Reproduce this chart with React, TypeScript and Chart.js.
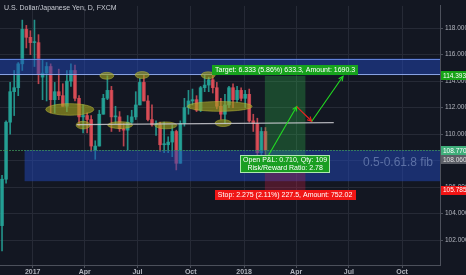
import React, { useEffect, useRef } from 'react';
import { Chart, registerables } from 'chart.js';

Chart.register(...registerables);

// ---- Data (weekly candles, USD/JPY, FXCM) ----
const weekDates = [
  '2016-11-07', '2016-11-14', '2016-11-21', '2016-11-28', '2016-12-05', '2016-12-12', '2016-12-19', '2016-12-26',
  '2017-01-02', '2017-01-09', '2017-01-16', '2017-01-23', '2017-01-30', '2017-02-06', '2017-02-13', '2017-02-20',
  '2017-02-27', '2017-03-06', '2017-03-13', '2017-03-20', '2017-03-27', '2017-04-03', '2017-04-10', '2017-04-17',
  '2017-04-24', '2017-05-01', '2017-05-08', '2017-05-15', '2017-05-22', '2017-05-29', '2017-06-05', '2017-06-12',
  '2017-06-19', '2017-06-26', '2017-07-03', '2017-07-10', '2017-07-17', '2017-07-24', '2017-07-31', '2017-08-07',
  '2017-08-14', '2017-08-21', '2017-08-28', '2017-09-04', '2017-09-11', '2017-09-18', '2017-09-25', '2017-10-02',
  '2017-10-09', '2017-10-16', '2017-10-23', '2017-10-30', '2017-11-06', '2017-11-13', '2017-11-20', '2017-11-27',
  '2017-12-04', '2017-12-11', '2017-12-18', '2017-12-25', '2018-01-01', '2018-01-08', '2018-01-15', '2018-01-22',
  '2018-01-29', '2018-02-05',
];
const opens = [
  103.1, 106.6, 110.9, 113.2, 113.5, 115.3, 117.9, 117.3,
  116.9, 116.9, 114.3, 114.6, 115.1, 112.6, 113.2, 112.9,
  112.1, 114.0, 114.8, 112.7, 111.3, 111.4, 111.1, 108.8,
  109.1, 111.5, 112.7, 113.3, 111.3, 111.3, 110.4, 110.3,
  110.9, 111.3, 112.2, 113.9, 112.5, 111.1, 110.7, 110.7,
  109.2, 109.2, 109.4, 110.2, 107.8, 110.8, 112.0, 112.5,
  112.6, 111.8, 113.5, 113.7, 114.1, 113.5, 112.1, 111.5,
  112.2, 113.5, 112.6, 113.3, 112.7, 113.0, 111.0, 110.8,
  108.6, 110.2,
];
const highs = [
  106.9, 111.0, 113.9, 114.8, 115.4, 118.6, 118.2, 117.8,
  118.6, 117.5, 115.6, 115.4, 115.3, 113.9, 114.9, 113.8,
  114.8, 115.3, 115.2, 112.9, 112.2, 111.6, 111.4, 109.5,
  111.8, 113.0, 114.4, 113.6, 112.1, 111.7, 110.8, 111.4,
  111.8, 113.2, 114.2, 114.5, 112.9, 112.2, 111.0, 110.9,
  110.9, 109.8, 110.7, 110.3, 111.0, 112.7, 113.3, 113.4,
  112.9, 113.6, 114.5, 114.3, 114.7, 113.9, 112.7, 113.0,
  113.6, 113.8, 113.6, 113.5, 113.3, 113.4, 111.5, 111.2,
  110.5, 110.5,
];
const lows = [
  101.2, 106.3, 110.0, 111.4, 112.9, 114.8, 116.5, 116.0,
  115.1, 113.8, 112.6, 112.5, 111.6, 111.6, 112.6, 112.1,
  111.7, 113.6, 112.5, 110.6, 110.1, 110.1, 108.7, 108.1,
  109.1, 111.5, 112.6, 110.2, 110.8, 110.2, 109.1, 108.8,
  110.8, 111.1, 112.2, 112.5, 111.0, 110.6, 109.9, 108.7,
  108.6, 108.6, 108.3, 107.3, 107.8, 110.6, 111.5, 112.2,
  111.7, 111.7, 113.2, 113.2, 113.1, 111.9, 111.1, 110.8,
  112.0, 112.0, 112.4, 112.5, 112.0, 110.9, 110.2, 108.3,
  108.3, 108.0,
];
const closes = [
  106.6, 110.9, 113.2, 113.5, 115.3, 117.9, 117.3, 116.9,
  116.9, 114.5, 114.6, 115.1, 112.6, 113.2, 112.9, 112.1,
  114.0, 114.8, 112.7, 111.3, 111.4, 111.1, 109.1, 109.1,
  111.5, 112.7, 113.3, 111.3, 111.3, 110.4, 110.3, 110.9,
  111.3, 112.2, 113.9, 112.5, 111.1, 110.7, 110.7, 109.2,
  109.2, 109.4, 110.2, 107.8, 110.8, 112.0, 112.5, 112.6,
  111.8, 113.5, 113.7, 114.1, 113.5, 112.1, 111.5, 112.2,
  113.5, 112.6, 113.3, 112.7, 113.0, 111.0, 110.8, 108.6,
  110.2, 108.8,
];

const xTickDates = ['2017-01-01', '2017-04-01', '2017-07-01', '2017-10-01', '2018-01-01', '2018-04-01', '2018-07-01', '2018-10-01'];
const xTickLabels = ['2017', 'Apr', 'Jul', 'Oct', '2018', 'Apr', 'Jul', 'Oct'];
const yTicks = [102, 104, 106, 108, 110, 112, 114, 116, 118];

const chartTitle = 'U.S. Dollar/Japanese Yen, D, FXCM';

// ---- Annotations ----
const resistanceZone = [114.45, 115.7];
const fibZone = [106.45, 108.8];
const fibZoneStart = '2016-12-18';
const fibLabel = '0.5-0.61.8 fib';

const entryPrice = 108.06;
const targetPrice = 114.393;
const stopPrice = 105.785;
const lastPrice = 108.77;
const positionDates = ['2018-02-06', '2018-04-17'];
const targetText = 'Target: 6.333 (5.86%) 633.3, Amount: 1690.3';
const pnlText = ['Open P&L: 0.710, Qty: 109', 'Risk/Reward Ratio: 2.78'];
const stopText = 'Stop: 2.275 (2.11%) 227.5, Amount: 752.02';

const trendDates = ['2017-03-18', '2018-06-05'];
const trendPrices = [110.71, 110.86];

const pathDates = ['2018-02-10', '2018-04-02', '2018-04-28', '2018-06-21'];
const pathPrices = [108.24, 112.08, 110.97, 114.36];
const pathDirections = ['up', 'down', 'up'];

const ellipseDates = ['2017-03-06', '2017-03-29', '2017-05-09', '2017-07-09', '2017-06-01', '2017-08-19', '2017-10-31', '2017-11-20', '2017-11-26'];
const ellipsePrices = [111.86, 110.68, 114.4, 114.46, 110.68, 110.66, 114.44, 112.09, 110.83];
const ellipseHalfDays = [41.5, 12, 12, 12, 21.5, 19, 12, 56, 14];
const ellipseHalfPrices = [0.44, 0.29, 0.26, 0.26, 0.26, 0.26, 0.26, 0.37, 0.26];

// ---- helpers ----
const EPOCH = Date.parse('2017-01-01T00:00:00Z');
const dayOf = (s: string) => (Date.parse(s + 'T00:00:00Z') - EPOCH) / 86400000;

const BG = '#131722';
const GRID = '#262a36';
const AXIS = '#4c505b';
const TEXT = '#b2b5be';
const UP = 'rgba(38,166,154,0.85)';
const DOWN = 'rgba(230,80,90,0.8)';
const FONT = '"Liberation Sans", Arial, sans-serif';

const annotations = {
  id: 'annotations',
  afterDatasetsDraw(chart: any) {
    const { ctx, chartArea: a, scales } = chart;
    const x = scales.x;
    const y = scales.y;
    const px = (d: string) => x.getPixelForValue(dayOf(d));
    ctx.save();
    ctx.beginPath();
    ctx.rect(a.left, a.top, a.right - a.left, a.bottom - a.top);
    ctx.clip();

    // resistance zone
    const rTop = y.getPixelForValue(resistanceZone[1]);
    const rBot = y.getPixelForValue(resistanceZone[0]);
    ctx.fillStyle = 'rgba(33,72,185,0.5)';
    ctx.fillRect(a.left, rTop, a.right - a.left, rBot - rTop);
    ctx.strokeStyle = 'rgba(110,145,235,0.85)';
    ctx.lineWidth = 1;
    ctx.beginPath();
    ctx.moveTo(a.left, Math.round(rTop) + 0.5);
    ctx.lineTo(a.right, Math.round(rTop) + 0.5);
    ctx.stroke();
    ctx.strokeStyle = 'rgba(150,175,240,0.9)';
    ctx.beginPath();
    ctx.moveTo(a.left, Math.round(rBot) - 0.5);
    ctx.lineTo(a.right, Math.round(rBot) - 0.5);
    ctx.stroke();

    // fib zone
    const fTop = y.getPixelForValue(fibZone[1]);
    const fBot = y.getPixelForValue(fibZone[0]);
    const fLeft = px(fibZoneStart);
    ctx.fillStyle = 'rgba(33,72,185,0.5)';
    ctx.fillRect(fLeft, fTop, a.right - fLeft, fBot - fTop);

    // position tool
    const pL = px(positionDates[0]);
    const pR = px(positionDates[1]);
    const yT = y.getPixelForValue(targetPrice);
    const yE = y.getPixelForValue(entryPrice);
    const yS = y.getPixelForValue(stopPrice);
    ctx.fillStyle = 'rgba(50,200,80,0.28)';
    ctx.fillRect(pL, yT, pR - pL, yE - yT);
    ctx.fillStyle = 'rgba(210,30,70,0.3)';
    ctx.fillRect(pL, yE, pR - pL, yS - yE);

    // last price line
    const yL = y.getPixelForValue(lastPrice);
    ctx.strokeStyle = 'rgba(60,150,90,0.75)';
    ctx.setLineDash([2, 1]);
    ctx.beginPath();
    ctx.moveTo(a.left, Math.round(yL) + 0.5);
    ctx.lineTo(a.right, Math.round(yL) + 0.5);
    ctx.stroke();
    ctx.setLineDash([]);

    // ellipses
    for (let i = 0; i < ellipseDates.length; i++) {
      const d = dayOf(ellipseDates[i]);
      const cx = x.getPixelForValue(d);
      const cy = y.getPixelForValue(ellipsePrices[i]);
      const rx = Math.abs(x.getPixelForValue(d + ellipseHalfDays[i]) - cx);
      const ry = Math.abs(y.getPixelForValue(ellipsePrices[i] + ellipseHalfPrices[i]) - cy);
      ctx.beginPath();
      ctx.ellipse(cx, cy, rx, ry, 0, 0, Math.PI * 2);
      ctx.fillStyle = 'rgba(165,165,30,0.62)';
      ctx.fill();
      ctx.strokeStyle = 'rgba(190,190,60,0.5)';
      ctx.lineWidth = 1;
      ctx.stroke();
    }

    // trend line
    ctx.strokeStyle = 'rgba(205,205,210,0.85)';
    ctx.lineWidth = 1.2;
    ctx.beginPath();
    ctx.moveTo(px(trendDates[0]), y.getPixelForValue(trendPrices[0]));
    ctx.lineTo(px(trendDates[1]), y.getPixelForValue(trendPrices[1]));
    ctx.stroke();

    // projected path arrows
    for (let i = 0; i < pathDirections.length; i++) {
      const x0 = px(pathDates[i]);
      const y0 = y.getPixelForValue(pathPrices[i]);
      const x1 = px(pathDates[i + 1]);
      const y1 = y.getPixelForValue(pathPrices[i + 1]);
      const col = pathDirections[i] === 'up' ? '#22dd22' : '#ee2222';
      ctx.strokeStyle = col;
      ctx.lineWidth = 1.1;
      ctx.beginPath();
      ctx.moveTo(x0, y0);
      ctx.lineTo(x1, y1);
      ctx.stroke();
      const ang = Math.atan2(y1 - y0, x1 - x0);
      const hl = 5;
      ctx.beginPath();
      ctx.moveTo(x1 - hl * Math.cos(ang - 0.45), y1 - hl * Math.sin(ang - 0.45));
      ctx.lineTo(x1, y1);
      ctx.lineTo(x1 - hl * Math.cos(ang + 0.45), y1 - hl * Math.sin(ang + 0.45));
      ctx.stroke();
    }

    // fib label
    ctx.font = '12px ' + FONT;
    ctx.fillStyle = 'rgba(105,125,175,0.85)';
    ctx.textAlign = 'right';
    ctx.textBaseline = 'middle';
    ctx.fillText(fibLabel, a.right - 7, (fTop + fBot) / 2 - 3);

    ctx.restore();

    // label boxes
    ctx.save();
    ctx.font = '7px ' + FONT;
    ctx.textAlign = 'center';
    ctx.textBaseline = 'middle';
    const cxBox = (pL + pR) / 2;
    const drawBox = (lines: string[], top: number, fill: string, border: string | null) => {
      const w = Math.max(...lines.map((l) => ctx.measureText(l).width)) + 6;
      const lh = 7.5;
      const h = lines.length * lh + 2.5;
      const left = Math.round(cxBox - w / 2);
      ctx.fillStyle = fill;
      ctx.beginPath();
      ctx.rect(left, Math.round(top), Math.round(w), Math.round(h));
      ctx.fill();
      if (border) {
        ctx.strokeStyle = border;
        ctx.lineWidth = 1;
        ctx.strokeRect(left + 0.5, Math.round(top) + 0.5, Math.round(w) - 1, Math.round(h) - 1);
      }
      ctx.fillStyle = '#ffffff';
      lines.forEach((l, i) => ctx.fillText(l, cxBox, Math.round(top) + 1.5 + lh * i + lh / 2));
    };
    drawBox([targetText], yT - 10.5, '#17a31d', null);
    drawBox(pnlText, yE - 5, '#1a9e22', 'rgba(190,240,190,0.9)');
    drawBox([stopText], yS, '#f01616', null);
    ctx.restore();
  },
  afterDraw(chart: any) {
    const { ctx, chartArea: a, scales } = chart;
    const y = scales.y;
    ctx.save();
    // price tags on axis
    const tags = [
      { v: targetPrice, fill: '#16a316', text: '#ffffff' },
      { v: lastPrice, fill: '#3fae7a', text: '#ffffff' },
      { v: entryPrice, fill: '#5b5e66', text: '#e0e0e0' },
      { v: stopPrice, fill: '#f01414', text: '#ffffff' },
    ];
    ctx.font = '6.5px ' + FONT;
    ctx.textAlign = 'left';
    ctx.textBaseline = 'middle';
    tags.forEach((t) => {
      const yy = y.getPixelForValue(t.v);
      ctx.fillStyle = t.fill;
      ctx.fillRect(a.right + 1, Math.round(yy - 4.5), chart.width - a.right - 1, 9);
      ctx.fillStyle = t.text;
      ctx.fillText(t.v.toFixed(3), a.right + 3, yy + 0.5);
    });
    // title
    ctx.font = '7px ' + FONT;
    ctx.fillStyle = '#c9ccd4';
    ctx.textAlign = 'left';
    ctx.textBaseline = 'middle';
    ctx.fillText(chartTitle, 4, 8);
    ctx.restore();
  },
};

export default function App() {
  const ref = useRef<HTMLCanvasElement | null>(null);
  useEffect(() => {
    if (!ref.current) return;
    const xs = weekDates.map((d) => dayOf(d) + 2);
    const colors = opens.map((o, i) => (closes[i] >= o ? UP : DOWN));
    const chart = new Chart(ref.current, {
      type: 'bar',
      data: {
        datasets: [
          {
            label: 'wicks',
            data: xs.map((x, i) => ({ x, y: [lows[i], highs[i]] })) as any,
            backgroundColor: colors,
            barThickness: 1,
            grouped: false,
          } as any,
          {
            label: 'bodies',
            data: xs.map((x, i) => ({ x, y: [Math.min(opens[i], closes[i]), Math.max(opens[i], closes[i])] })) as any,
            backgroundColor: colors,
            barThickness: 3,
            minBarLength: 1,
            grouped: false,
          } as any,
        ],
      },
      options: {
        responsive: false,
        devicePixelRatio: 1,
        animation: false,
        events: [],
        layout: { padding: 0 },
        plugins: { legend: { display: false }, tooltip: { enabled: false }, title: { display: false } },
        scales: {
          x: {
            type: 'linear',
            min: -56.5,
            max: 703.5,
            offset: false,
            grid: { color: GRID, offset: false, tickLength: 3, tickColor: AXIS },
            border: { color: AXIS },
            afterBuildTicks: (s: any) => {
              s.ticks = xTickDates.map((d) => ({ value: dayOf(d) }));
            },
            afterFit: (s: any) => {
              s.height = 10;
            },
            ticks: {
              autoSkip: false,
              maxRotation: 0,
              padding: 0,
              color: TEXT,
              font: { size: 7, family: FONT, weight: 'bold' },
              callback: (_v: any, i: number) => xTickLabels[i],
            },
          },
          y: {
            type: 'linear',
            position: 'right',
            min: 100.13,
            max: 119.67,
            grid: { color: GRID, tickLength: 3, tickColor: AXIS },
            border: { color: AXIS },
            afterBuildTicks: (s: any) => {
              s.ticks = yTicks.map((v) => ({ value: v }));
            },
            afterFit: (s: any) => {
              s.width = 26;
            },
            ticks: {
              padding: 2,
              color: TEXT,
              font: { size: 6.5, family: FONT },
              callback: (v: any) => Number(v).toFixed(3),
            },
          },
        },
      } as any,
      plugins: [annotations],
    });
    return () => chart.destroy();
  }, []);

  return (
    <div style={{ position: 'fixed', left: 0, top: 0, width: 466, height: 275, background: BG }}>
      <canvas ref={ref} width={466} height={275} style={{ width: 466, height: 275, display: 'block' }} />
    </div>
  );
}
